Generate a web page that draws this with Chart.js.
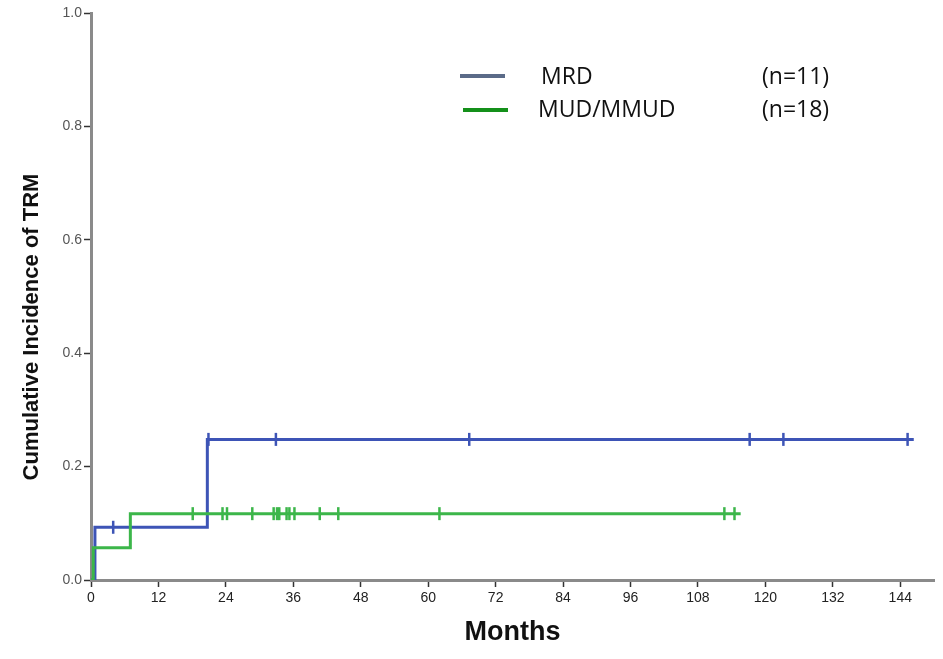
<!DOCTYPE html>
<html>
<head>
<meta charset="utf-8">
<script src="https://cdn.jsdelivr.net/npm/chart.js@4.4.1/dist/chart.umd.min.js"></script>
<style>
  html, body { margin: 0; padding: 0; background: #fff; }
  #wrap { width: 943px; height: 659px; position: relative; }
</style>
</head>
<body>
<div id="wrap"><canvas id="trmChart"></canvas></div>
<script>
// axis ticks
const xTicks = [0, 12, 24, 36, 48, 60, 72, 84, 96, 108, 120, 132, 144];
const yTicks = [0, 0.2, 0.4, 0.6, 0.8, 1.0];

// step curves (months, cumulative incidence after each event)
const mrdTimes = [0, 0.7, 20.7, 146.4];
const mrdValues = [0, 0.093, 0.248, 0.248];
const mudTimes = [0, 0.4, 7.0, 115.6];
const mudValues = [0, 0.057, 0.117, 0.117];

// censored observations (months)
const mrdCensored = [3.95, 20.9, 32.9, 67.3, 117.2, 123.2, 145.3];
const mudCensored = [18.1, 23.4, 24.2, 28.7, 32.5, 33.1, 33.5, 34.8, 35.3, 36.2, 40.7, 44.0, 62.0, 112.7, 114.5];

const seriesNames = ['MRD', 'MUD/MMUD'];
const seriesCounts = ['(n=11)', '(n=18)'];

const blue = '#3d54b6';
const green = '#3cb64a';

function stepValue(times, values, t) {
    let v = values[0];
    for (let i = 0; i < times.length; i++) {
        if (times[i] <= t) v = values[i];
    }
    return v;
}

const toPoints = (times, values) => times.map((t, i) => ({ x: t, y: values[i] }));
const censorPoints = (cens, times, values) => cens.map(t => ({ x: t, y: stepValue(times, values, t) }));

// legend + y title drawn on top of the chart
const annotations = {
    id: 'annotations',
    afterDraw(chart) {
        const ctx = chart.ctx;
        ctx.save();
        // y axis title
        ctx.translate(32, 327);
        ctx.rotate(-Math.PI / 2);
        ctx.font = 'bold 22px "Liberation Sans", Arial, sans-serif';
        ctx.fillStyle = '#111';
        ctx.textAlign = 'center';
        ctx.textBaseline = 'middle';
        ctx.fillText('Cumulative Incidence of TRM', 0, 0);
        ctx.restore();

        // legend
        ctx.save();
        ctx.lineWidth = 4;
        ctx.strokeStyle = '#5b6b88';
        ctx.beginPath(); ctx.moveTo(460, 76); ctx.lineTo(505, 76); ctx.stroke();
        ctx.strokeStyle = '#14901a';
        ctx.beginPath(); ctx.moveTo(463, 110); ctx.lineTo(508, 110); ctx.stroke();
        ctx.font = '23px "Open Sans", "Noto Sans", sans-serif';
        ctx.fillStyle = '#111';
        ctx.textBaseline = 'middle';
        ctx.fillText(seriesNames[0], 541, 77);
        ctx.fillText(seriesCounts[0], 762, 77);
        ctx.fillText(seriesNames[1], 538, 110);
        ctx.fillText(seriesCounts[1], 762, 110);
        ctx.restore();
    }
};

const ctx = document.getElementById('trmChart').getContext('2d');
new Chart(ctx, {
    type: 'scatter',
    data: {
        datasets: [
            {
                label: seriesNames[1],
                data: toPoints(mudTimes, mudValues),
                showLine: true,
                stepped: 'before',
                borderColor: green,
                borderWidth: 3,
                pointRadius: 0,
                order: 1
            },
            {
                label: seriesNames[1] + ' censored',
                data: censorPoints(mudCensored, mudTimes, mudValues),
                showLine: false,
                pointStyle: 'line',
                rotation: 90,
                pointRadius: 6.5,
                borderColor: green,
                pointBorderWidth: 2.5,
                order: 0
            },
            {
                label: seriesNames[0],
                data: toPoints(mrdTimes, mrdValues),
                showLine: true,
                stepped: 'before',
                borderColor: blue,
                borderWidth: 3,
                pointRadius: 0,
                order: 3
            },
            {
                label: seriesNames[0] + ' censored',
                data: censorPoints(mrdCensored, mrdTimes, mrdValues),
                showLine: false,
                pointStyle: 'line',
                rotation: 90,
                pointRadius: 6.5,
                borderColor: blue,
                pointBorderWidth: 2.5,
                order: 2
            }
        ]
    },
    options: {
        responsive: true,
        maintainAspectRatio: false,
        animation: false,
        layout: { padding: { top: 13, right: 7, left: 0, bottom: 0 } },
        plugins: {
            legend: { display: false },
            tooltip: { enabled: false }
        },
        scales: {
            x: {
                type: 'linear',
                min: 0,
                max: 150,
                afterBuildTicks: scale => { scale.ticks = xTicks.map(v => ({ value: v })); },
                afterFit: scale => { scale.height = 79; },
                border: { color: '#8a8a8a', width: 3 },
                grid: { drawOnChartArea: false, drawTicks: true, tickLength: 7, color: '#333', tickWidth: 1.5 },
                ticks: {
                    padding: 3,
                    color: '#222',
                    font: { family: '"Liberation Sans", Arial, sans-serif', size: 14 },
                    maxRotation: 0
                },
                title: {
                    display: true,
                    text: 'Months',
                    color: '#111',
                    font: { family: '"Liberation Sans", Arial, sans-serif', size: 27, weight: 'bold' },
                    padding: { top: 0, bottom: 10 }
                }
            },
            y: {
                type: 'linear',
                min: 0,
                max: 1,
                afterBuildTicks: scale => { scale.ticks = yTicks.map(v => ({ value: v })); },
                afterFit: scale => { scale.width = 91; },
                border: { color: '#8a8a8a', width: 3 },
                grid: { drawOnChartArea: false, drawTicks: true, tickLength: 7, color: '#333', tickWidth: 1.5 },
                ticks: {
                    padding: 2,
                    color: '#555',
                    font: { family: '"Liberation Sans", Arial, sans-serif', size: 14 },
                    callback: v => v.toFixed(1)
                }
            }
        }
    },
    plugins: [annotations]
});
</script>
</body>
</html>
